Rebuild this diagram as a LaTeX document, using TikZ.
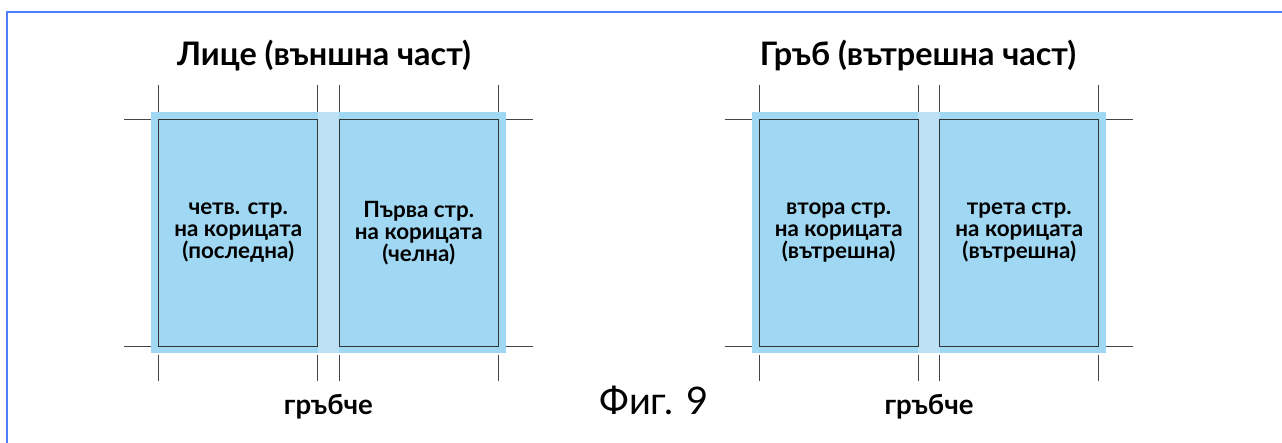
\documentclass[tikz,border=0pt]{standalone}
\usepackage{fontspec}
\setmainfont{Lato}
\begin{document}
\begin{tikzpicture}[x=0.5pt,y=-0.5pt,
  outerfill/.style={fill=outerblue, draw=none},
  spinefill/.style={fill=spineblue, draw=none},
  pagebox/.style={draw=pageline, line width=0.6pt},
  cropmark/.style={draw=markgray, line width=0.5pt},
  frameline/.style={draw=frameblue, line width=0.9pt},
  titletext/.style={font=\fontsize{16.2}{18}\selectfont\bfseries, anchor=base, inner sep=0pt},
  pagetext/.style={font=\fontsize{11.2}{11}\selectfont\bfseries, align=center, inner sep=0pt},
  spinetext/.style={font=\fontsize{13.8}{16}\selectfont\bfseries, anchor=base, inner sep=0pt},
  figtext/.style={font=\fontsize{19}{22}\selectfont, anchor=base, inner sep=0pt}
]
\definecolor{outerblue}{HTML}{A0D8F3}
\definecolor{spineblue}{HTML}{BCE1F5}
\definecolor{pageline}{HTML}{333333}
\definecolor{markgray}{HTML}{444444}
\definecolor{frameblue}{HTML}{4F80FF}
\useasboundingbox (0,0) rectangle (1282,443);
\fill[white] (0,0) rectangle (1282,443);
% frame
\coordinate (fa) at (7,443);
\coordinate (fb) at (7,12);
\coordinate (fc) at (1282,12);
\draw[frameline] (fa) -- (fb) -- (fc);
% panels
\foreach \ox in {0,600.5}{
  \begin{scope}[xshift=\ox*0.5pt]
    \fill[outerfill] (151,112) rectangle (505.7,353);
    \fill[spinefill] (317.7,112) rectangle (339.3,353);
    \draw[pagebox] (158.7,119.7) rectangle (317.7,346.7);
    \draw[pagebox] (339.3,119.7) rectangle (498.3,346.7);
    \foreach \yy in {119.7,346.7}{
      \draw[cropmark] (124,\yy) -- (151,\yy);
      \draw[cropmark] (505.7,\yy) -- (532.7,\yy);
    }
    \foreach \xx in {158.7,317.7,339.3,498.3}{
      \draw[cropmark] (\xx,85) -- (\xx,112);
      \draw[cropmark] (\xx,354.7) -- (\xx,381);
    }
  \end{scope}
}
% titles
\node[titletext] (tL) at (324,65.7) {Лице (външна част)};
\node[titletext] (tR) at (918,65.7) {Гръб (вътрешна част)};
% page texts
\node[pagetext] (p4) at (238.2,233) {четв. стр.\\на корицата\\(последна)};
\node[pagetext] (p1) at (418.8,233) {Първа стр.\\на корицата\\(челна)};
\node[pagetext] (p2) at (838.7,233) {втора стр.\\на корицата\\(вътрешна)};
\node[pagetext] (p3) at (1019.3,233) {трета стр.\\на корицата\\(вътрешна)};
% spine labels
\node[spinetext] (sL) at (328.4,415) {гръбче};
\node[spinetext] (sR) at (929,415) {гръбче};
% figure caption
\node[figtext] (fig) at (654,415) {Фиг. 9};
\end{tikzpicture}
\end{document}
